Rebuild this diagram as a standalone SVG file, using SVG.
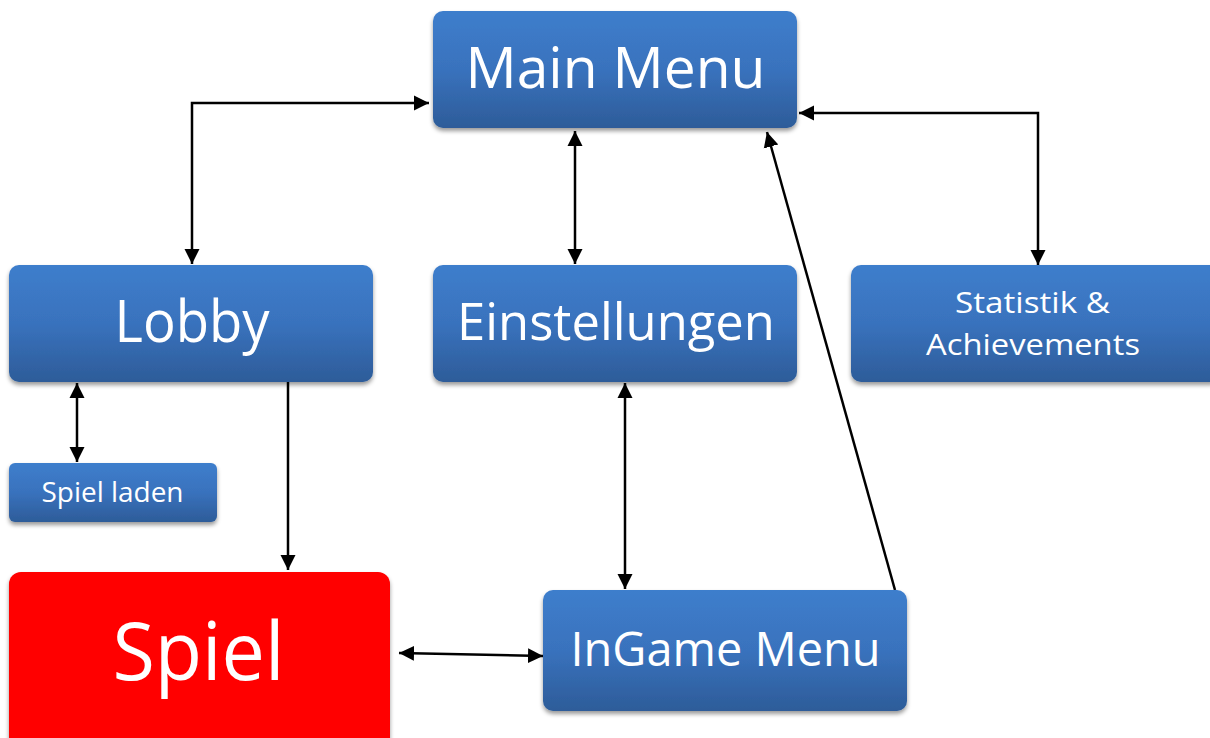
<svg xmlns="http://www.w3.org/2000/svg" width="1210" height="738" viewBox="0 0 1210 738">
  <defs>
    <linearGradient id="blue" x1="0" y1="0" x2="0" y2="1">
      <stop offset="0" stop-color="#3E7ECC"/>
      <stop offset="0.5" stop-color="#3972BD"/>
      <stop offset="1" stop-color="#2D5C99"/>
    </linearGradient>
    <filter id="shadow" x="-10%" y="-10%" width="120%" height="130%">
      <feDropShadow dx="0" dy="3" stdDeviation="2.2" flood-color="#000" flood-opacity="0.4"/>
    </filter>
    <marker id="arr" viewBox="0 0 15 16" refX="15" refY="8" markerWidth="15" markerHeight="16" markerUnits="userSpaceOnUse" orient="auto-start-reverse">
      <path d="M0,0.5 L15,8 L0,15.5 Z" fill="#000"/>
    </marker>
  </defs>
  <style>
    .box { fill: url(#blue); filter: url(#shadow); }
    .red { fill: #FF0000; filter: url(#shadow); }
    .lbl { fill: #FFFFFF; font-family: "Open Sans", "Noto Sans", "Liberation Sans", sans-serif; text-anchor: middle; }
    .con { fill: none; stroke: #000; stroke-width: 2.5; }
  </style>
  <rect width="1210" height="738" fill="#FFFFFF"/>

  <g id="connectors">
    <path class="con" d="M429,103 H192 V264" marker-start="url(#arr)" marker-end="url(#arr)"/>
    <path class="con" d="M575,131 V264" marker-start="url(#arr)" marker-end="url(#arr)"/>
    <path class="con" d="M799,113 H1038 V265" marker-start="url(#arr)" marker-end="url(#arr)"/>
    <path class="con" d="M895,590 L767,132" marker-end="url(#arr)"/>
    <path class="con" d="M77,383 V462" marker-start="url(#arr)" marker-end="url(#arr)"/>
    <path class="con" d="M288,382 V570" marker-end="url(#arr)"/>
    <path class="con" d="M625,383 V589" marker-start="url(#arr)" marker-end="url(#arr)"/>
    <path class="con" d="M399,653 L543,656" marker-start="url(#arr)" marker-end="url(#arr)"/>
  </g>

  <g id="main-menu">
    <rect class="box" x="433" y="11" width="364" height="117" rx="10"/>
    <text class="lbl" x="615.5" y="88" font-size="57" textLength="300" lengthAdjust="spacingAndGlyphs">Main Menu</text>
  </g>
  <g id="lobby">
    <rect class="box" x="9" y="265" width="364" height="117" rx="10"/>
    <text class="lbl" x="192" y="342" font-size="58" textLength="155" lengthAdjust="spacingAndGlyphs">Lobby</text>
  </g>
  <g id="einstellungen">
    <rect class="box" x="433" y="265" width="364" height="117" rx="10"/>
    <text class="lbl" x="616" y="340" font-size="52" textLength="318" lengthAdjust="spacingAndGlyphs">Einstellungen</text>
  </g>
  <g id="statistik">
    <rect class="box" x="851" y="265" width="370" height="117" rx="10"/>
    <text class="lbl" x="1032.5" y="313" font-size="29.5" textLength="155" lengthAdjust="spacingAndGlyphs">Statistik &amp;</text>
    <text class="lbl" x="1033" y="355" font-size="29.5" textLength="214" lengthAdjust="spacingAndGlyphs">Achievements</text>
  </g>
  <g id="spiel-laden">
    <rect class="box" x="9" y="463" width="208" height="59" rx="6"/>
    <text class="lbl" x="112.5" y="502" font-size="28" textLength="142" lengthAdjust="spacingAndGlyphs">Spiel laden</text>
  </g>
  <g id="spiel">
    <rect class="red" x="9" y="572" width="381" height="190" rx="12"/>
    <text class="lbl" x="198.5" y="680" font-size="81" textLength="172" lengthAdjust="spacingAndGlyphs">Spiel</text>
  </g>
  <g id="ingame-menu">
    <rect class="box" x="543" y="590" width="364" height="121" rx="10"/>
    <text class="lbl" x="725.5" y="666" font-size="48" textLength="310" lengthAdjust="spacingAndGlyphs">InGame Menu</text>
  </g>
</svg>
